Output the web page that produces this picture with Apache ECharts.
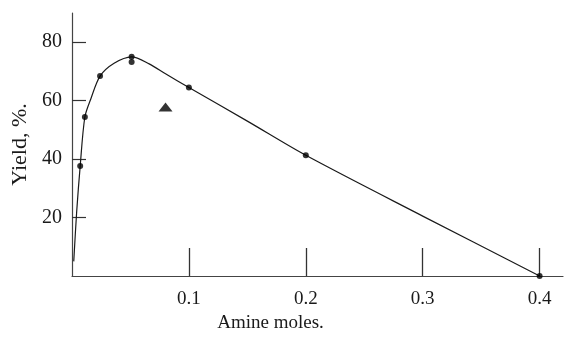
<!DOCTYPE html>
<html>
<head>
<meta charset="utf-8">
<script src="https://cdn.jsdelivr.net/npm/echarts@6/dist/echarts.min.js"></script>
<style>
  html, body { margin: 0; padding: 0; background: #fff; }
  #chart { width: 566px; height: 339px; }
</style>
</head>
<body>
<div id="chart"></div>
<script>
// smooth curve drawn through the readings (amine moles, yield %)
const curve = [
  [0.0015, 5], [0.004, 22], [0.007, 37.6], [0.011, 54.4], [0.016, 60.5],
  [0.024, 68.4], [0.036, 72.8], [0.051, 75], [0.066, 72.6], [0.08, 69.2],
  [0.1, 64.5], [0.15, 53], [0.2, 41.3], [0.3, 20.5], [0.4, 0],
];
// measured points
const dots = [
  [0.007, 37.6], [0.011, 54.4], [0.024, 68.4], [0.051, 75], [0.051, 73.2],
  [0.1, 64.5], [0.2, 41.3], [0.4, 0],
];
const triangle = [[0.08, 57.8]];
const xTicks = [0.1, 0.2, 0.3, 0.4];
const yTicks = [20, 40, 60, 80];

const ink = "#1a1a1a";
const serif = "'Liberation Serif', 'DejaVu Serif', serif";

const c = echarts.init(document.getElementById("chart"), null, { renderer: "canvas" });
c.setOption({
  backgroundColor: "#fff",
  animation: false,
  textStyle: { fontFamily: serif, color: ink },
  grid: { left: 72, right: 3, top: 13, bottom: 63 },
  xAxis: {
    type: "value",
    min: 0,
    max: 0.42,
    name: "Amine moles.",
    nameLocation: "middle",
    nameGap: 36,
    nameTextStyle: { fontFamily: serif, fontSize: 19, color: ink, padding: [0, 94, 0, 0] },
    axisLine: { lineStyle: { color: "#444", width: 1.2 } },
    axisTick: { customValues: xTicks, inside: true, length: 28, lineStyle: { color: "#333", width: 1.3 } },
    splitLine: { show: false },
    axisLabel: {
      customValues: xTicks,
      margin: 14,
      fontFamily: serif,
      fontSize: 19,
      color: ink,
      formatter: (v) => String(+v.toFixed(1)),
    },
  },
  yAxis: {
    type: "value",
    min: 0,
    max: 90,
    name: "Yield, %.",
    nameLocation: "middle",
    nameGap: 38,
    nameTextStyle: { fontFamily: serif, fontSize: 22, color: ink },
    axisLine: { lineStyle: { color: "#444", width: 1.2 } },
    axisTick: { customValues: yTicks, inside: true, length: 14, lineStyle: { color: "#333", width: 1.2 } },
    splitLine: { show: false },
    axisLabel: {
      customValues: yTicks,
      margin: 10,
      fontFamily: serif,
      fontSize: 20,
      color: ink,
    },
  },
  series: [
    {
      type: "line",
      data: curve,
      smooth: 0.3,
      symbol: "none",
      lineStyle: { color: ink, width: 1.2 },
      z: 2,
    },
    {
      type: "scatter",
      data: dots,
      symbol: "circle",
      symbolSize: 6,
      itemStyle: { color: "#000" },
      z: 3,
    },
    {
      type: "scatter",
      data: triangle,
      symbol: "triangle",
      symbolSize: [14, 9],
      itemStyle: { color: "#000" },
      z: 3,
    },
  ],
});
</script>
</body>
</html>
